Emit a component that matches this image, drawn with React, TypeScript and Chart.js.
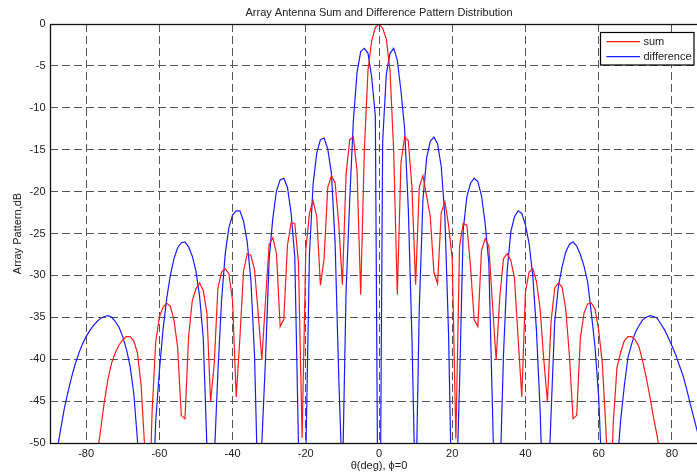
import React, { useEffect, useRef } from "react";
import { Chart, registerables } from "chart.js";

Chart.register(...registerables);

const TITLE = "Array Antenna Sum and Difference Pattern Distribution";
const X_LABEL = "\u03b8(deg), \u03d5=0";
const Y_LABEL = "Array Pattern,dB";

// angle grid, -90..90 deg in 1 deg steps
const theta: number[] = Array.from({ length: 181 }, (_, i) => i - 90);

// sum pattern (dB)
const sumDb: number[] = [
  -65, -64, -63, -62, -61, -60, -60, -59, -58, -57,
  -56, -55, -53.5, -51.5, -48.3, -45.0, -42.3, -40.4, -39.2, -38.3,
  -37.7, -37.3, -37.3, -37.8, -39.2, -43.0, -50.5, -62, -46.5, -38.0,
  -35.0, -33.8, -33.3, -33.7, -35.3, -38.6, -46.7, -47.1, -37.3, -33.0,
  -31.6, -30.9, -31.8, -34.5, -45.1, -40.5, -31.5, -29.6, -29.2, -29.8,
  -33.0, -44.5, -37.5, -29.5, -27.4, -27.6, -29.3, -34.5, -40.1, -33.0,
  -26.3, -25.5, -27.4, -36.1, -35.2, -26.4, -23.7, -23.8, -28.5, -49.4,
  -27.0, -22.6, -21.1, -23.0, -31.2, -28.0, -19.5, -18.1, -18.9, -23.8,
  -31.1, -18.0, -13.8, -13.5, -17.5, -32.3, -15.0, -5.5, -2.0, -0.4,
  0,
  -0.5, -1.8, -5.5, -15.0, -32.3, -16.5, -13.5, -13.9, -19.5, -31.1,
  -19.5, -18.1, -20.5, -23.0, -29.6, -31.0, -22.5, -21.2, -24.0, -28.0,
  -49.5, -26.5, -23.8, -24.0, -29.0, -35.3, -36.1, -27.0, -25.6, -26.5,
  -33.5, -40.1, -32.5, -28.0, -27.4, -28.2, -30.3, -37.5, -44.5, -32.0,
  -29.6, -29.2, -30.7, -34.0, -40.0, -45.1, -35.5, -31.5, -30.9, -31.4,
  -34.0, -39.5, -47.1, -46.7, -37.5, -34.5, -33.4, -33.3, -34.0, -36.5,
  -40.5, -48.5, -60, -47.5, -41.0, -39.2, -37.8, -37.3, -37.3, -37.7,
  -38.5, -40.2, -42.2, -44.5, -47.0, -49.2, -52, -54, -55, -56,
  -57, -58, -59, -60, -60, -61, -62, -63, -64, -65,
];

// difference pattern (dB)
const diffDb: number[] = [
  -56, -53.5, -51, -48.5, -46.0, -44.0, -42.2, -40.6, -39.3, -38.2,
  -37.3, -36.6, -36.0, -35.5, -35.1, -34.9, -34.8, -35.0, -35.5, -36.2,
  -37.3, -38.8, -40.8, -44.0, -49.5, -57, -65, -70, -60, -47.5,
  -41.5, -36.5, -32.8, -30.0, -28.0, -26.7, -26.1, -26.0, -26.6, -27.7,
  -29.5, -32.5, -37.5, -50.5, -62, -52, -41.5, -33.0, -27.4, -24.3,
  -22.8, -22.3, -22.3, -23.5, -26.0, -30.5, -39.5, -57, -50, -40,
  -28.0, -23.2, -19.9, -18.6, -18.4, -19.5, -22.6, -27.8, -50, -65,
  -52, -27.5, -19.1, -15.4, -13.8, -13.6, -14.9, -17.8, -26, -42,
  -55, -32, -21, -11.5, -5.8, -3.3, -2.9, -3.5, -6.3, -11,
  -80,
  -14, -6, -3.5, -2.9, -4.3, -8, -12.5, -22, -37.5, -58,
  -34, -21, -16, -14, -13.5, -14.3, -17, -23, -37, -60,
  -58, -43, -24.6, -20.6, -19.0, -18.4, -18.8, -20.5, -23.8, -28.5,
  -46, -65, -55, -39.5, -29.5, -24.8, -23.0, -22.3, -22.6, -24.0,
  -26.2, -30, -36.5, -46, -60, -58, -46.5, -35.5, -31.3, -29,
  -27.2, -26.3, -26.0, -26.5, -27.5, -28.9, -30.8, -34.5, -38.5, -44.5,
  -55, -62, -70, -62, -53, -47.3, -43.2, -39.8, -38.2, -36.8,
  -36.0, -35.3, -35.0, -34.8, -34.9, -35.1, -35.8, -36.5, -37.4, -38.4,
  -39.4, -40.7, -41.9, -43.5, -45.3, -47.0, -48.7, -50.5, -52.5, -55,
];

const xTicks: number[] = [-80, -60, -40, -20, 0, 20, 40, 60, 80];
const yTicks: number[] = [0, -5, -10, -15, -20, -25, -30, -35, -40, -45, -50];

const seriesNames = ["sum", "difference"];
const seriesColors = ["#ff1a1a", "#1a1aff"];

const FONT = '"Liberation Sans", Arial, Helvetica, sans-serif';

const overlay = {
  id: "overlay",
  afterDraw(chart: any) {
    const { ctx } = chart;
    const { left, right, top, bottom } = chart.chartArea;
    ctx.save();
    // axes box
    ctx.strokeStyle = "#111";
    ctx.lineWidth = 1.3;
    ctx.setLineDash([]);
    ctx.strokeRect(Math.round(left) + 0.5, Math.round(top) + 0.5, right - left, bottom - top);
    // titles
    ctx.fillStyle = "#222";
    ctx.font = `11px ${FONT}`;
    ctx.textAlign = "center";
    ctx.textBaseline = "middle";
    ctx.fillText(TITLE, (left + right) / 2, 13);
    ctx.fillText(X_LABEL, (left + right) / 2, 466);
    ctx.save();
    ctx.translate(18, (top + bottom) / 2);
    ctx.rotate(-Math.PI / 2);
    ctx.fillText(Y_LABEL, 0, 0);
    ctx.restore();
    // legend
    const bx = 600.5, by = 32.5, bw = 93.5, bh = 32.5;
    ctx.fillStyle = "#fff";
    ctx.fillRect(bx, by, bw, bh);
    ctx.strokeStyle = "#000";
    ctx.lineWidth = 1.2;
    ctx.strokeRect(bx, by, bw, bh);
    ctx.textAlign = "left";
    seriesNames.forEach((name, i) => {
      const y = 41.7 + i * 15;
      ctx.strokeStyle = seriesColors[i];
      ctx.lineWidth = 1.2;
      ctx.beginPath();
      ctx.moveTo(606.5, y);
      ctx.lineTo(640, y);
      ctx.stroke();
      ctx.fillStyle = "#222";
      ctx.fillText(name, 643.5, y);
    });
    ctx.restore();
  },
};

export default function App() {
  const canvasRef = useRef<HTMLCanvasElement | null>(null);

  useEffect(() => {
    const canvas = canvasRef.current;
    if (!canvas) return;
    const series = [sumDb, diffDb];
    const chart = new Chart(canvas, {
      type: "line",
      data: {
        datasets: series.map((vals, si) => ({
          label: seriesNames[si],
          data: theta.map((t, i) => ({ x: t, y: vals[i] })),
          borderColor: seriesColors[si],
          borderWidth: 1.2,
          pointRadius: 0,
          tension: 0,
          fill: false,
        })),
      },
      options: {
        animation: false,
        responsive: false,
        devicePixelRatio: 1,
        layout: { padding: { left: 0, top: 24, right: 11.5, bottom: 0 } },
        plugins: {
          legend: { display: false },
          title: { display: false },
          tooltip: { enabled: false },
        },
        scales: {
          x: {
            type: "linear",
            min: -90,
            max: 90,
            afterBuildTicks: (s: any) => {
              s.ticks = xTicks.map((v) => ({ value: v }));
            },
            afterFit: (s: any) => {
              s.height = 29;
            },
            grid: { color: "#555", lineWidth: 1, drawTicks: false },
            border: { display: false, dash: [8, 4] },
            ticks: {
              padding: 4,
              color: "#222",
              font: { family: FONT, size: 11 },
              maxRotation: 0,
              autoSkip: false,
            },
          },
          y: {
            type: "linear",
            min: -50,
            max: 0,
            afterBuildTicks: (s: any) => {
              s.ticks = yTicks.map((v) => ({ value: v }));
            },
            afterFit: (s: any) => {
              s.width = 49.5;
            },
            grid: { color: "#555", lineWidth: 1, drawTicks: false },
            border: { display: false, dash: [8, 4] },
            ticks: {
              padding: 4,
              color: "#222",
              font: { family: FONT, size: 11 },
              autoSkip: false,
            },
          },
        },
      },
      plugins: [overlay],
    } as any);
    return () => chart.destroy();
  }, []);

  return (
    <div
      style={{
        position: "fixed",
        left: 0,
        top: 0,
        width: 697,
        height: 472,
        overflow: "hidden",
        background: "#fff",
      }}
    >
      <canvas ref={canvasRef} width={720} height={472} style={{ display: "block" }} />
    </div>
  );
}
